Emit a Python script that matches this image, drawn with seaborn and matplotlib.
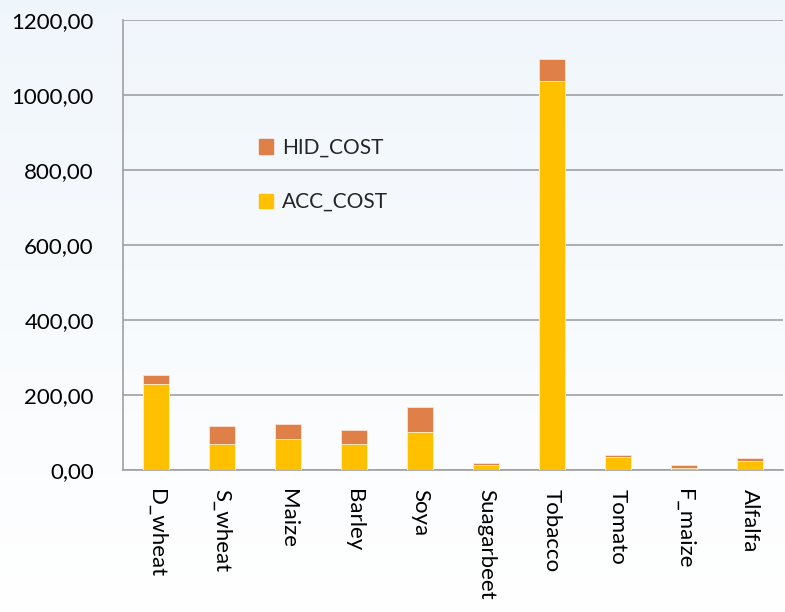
import matplotlib
matplotlib.use("Agg")
import matplotlib.pyplot as plt
import matplotlib.patches as mpatches
import numpy as np
import pandas as pd
import seaborn as sns

categories = ["D_wheat", "S_wheat", "Maize", "Barley", "Soya", "Suagarbeet",
              "Tobacco", "Tomato", "F_maize", "Alfalfa"]
acc_cost = [229, 68.5, 83.5, 68.5, 102, 14, 1038, 35, 5, 23]
hid_cost = [25, 49, 40, 39, 67, 4, 57, 6, 8, 8]
y_ticks = [0, 200, 400, 600, 800, 1000, 1200]

sns.set_theme(style="white")
plt.rcParams["font.family"] = ["Lato", "DejaVu Sans"]

df = pd.DataFrame({"crop": categories, "ACC_COST": acc_cost, "HID_COST": hid_cost})
df["TOTAL"] = df["ACC_COST"] + df["HID_COST"]

fig = plt.figure(figsize=(7.85, 6.12), dpi=100)
fig.patch.set_facecolor("white")

# background gradient
bg = fig.add_axes([0, 0, 1, 1], zorder=-10)
grad = np.linspace(0, 1, 256).reshape(-1, 1)
c_top = np.array([0.94, 0.965, 0.985])
c_bot = np.array([1.0, 1.0, 1.0])
img = c_top[None, None, :] * (1 - grad[:, :, None]) + c_bot[None, None, :] * grad[:, :, None]
bg.imshow(img, aspect="auto", extent=[0, 1, 0, 1], origin="upper")
bg.axis("off")

ax = fig.add_axes([123 / 785, 1 - 470 / 612, 660 / 785, 450 / 612])
ax.set_facecolor((1, 1, 1, 0))

hid_color = "#DE8048"
acc_color = "#FFC000"

sns.barplot(data=df, x="crop", y="TOTAL", color=hid_color, width=0.4, ax=ax,
            saturation=1, edgecolor="#FBE3D6", linewidth=0.6, zorder=3)
sns.barplot(data=df, x="crop", y="ACC_COST", color=acc_color, width=0.4, ax=ax,
            saturation=1, edgecolor="#FFF2CC", linewidth=0.6, zorder=4)

ax.set_xlim(-0.5, len(categories) - 0.5)
ax.set_ylim(0, 1200)
ax.set_yticks(y_ticks)
ax.set_yticklabels([f"{v:.2f}".replace(".", ",") for v in y_ticks])
ax.yaxis.grid(True, color="#A0A0A0", linewidth=1.2, zorder=0)
ax.set_axisbelow(True)

ax.set_xticks(range(len(categories)))
ax.set_xticklabels(categories, rotation=270, va="top", ha="center")
ax.set_xticks(np.arange(-0.5, len(categories), 1), minor=True)
ax.tick_params(axis="x", which="major", length=0, pad=14, labelsize=16, labelcolor="black")
ax.tick_params(axis="x", which="minor", length=6, width=1.2, color="#A0A0A0", direction="out")
ax.tick_params(axis="y", length=6, width=1.2, color="#A0A0A0", direction="out", pad=15,
               labelsize=16, labelcolor="black")
ax.set_xlabel("")
ax.set_ylabel("")

for s in ["top", "right"]:
    ax.spines[s].set_visible(False)
for s in ["left", "bottom"]:
    ax.spines[s].set_color("#A0A0A0")
    ax.spines[s].set_linewidth(1.2)

handles = [mpatches.Patch(color=hid_color, label="HID_COST"),
           mpatches.Patch(color=acc_color, label="ACC_COST")]
leg = fig.legend(handles=handles, loc="upper left", bbox_to_anchor=(240 / 785, 1 - 119 / 612),
                 frameon=False, fontsize=15, handlelength=0.7, handleheight=0.7,
                 handletextpad=0.4, labelspacing=1.65)

fig.savefig("out.png", dpi=100)
